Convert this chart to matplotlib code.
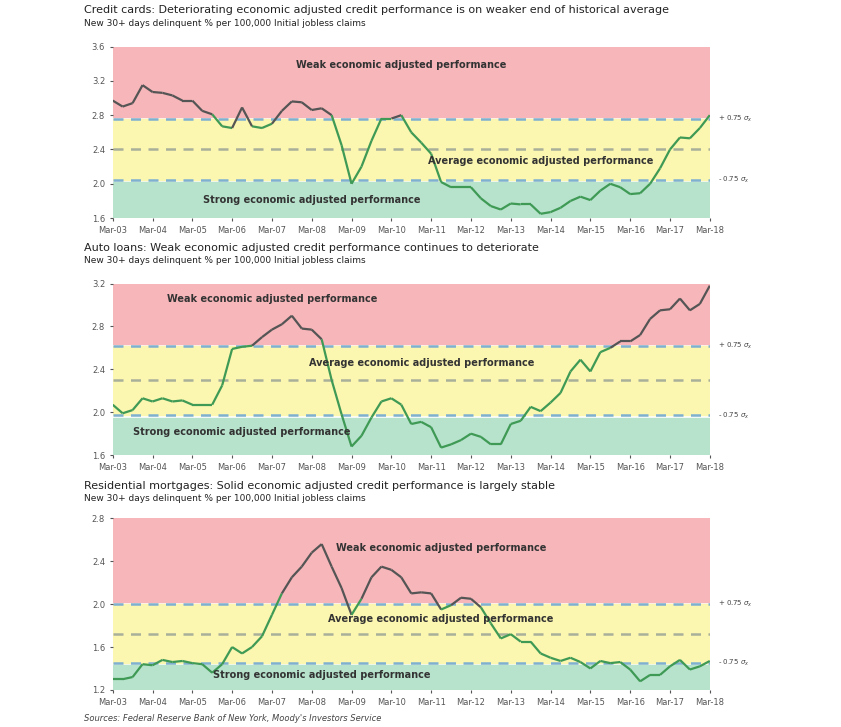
import numpy as np
import matplotlib.pyplot as plt
from matplotlib.collections import LineCollection

# quarterly, Mar-03 .. Mar-18
n_q = 61
year_labels = ['Mar-%02d' % y for y in range(3, 19)]

credit_cards = [2.97, 2.90, 2.94, 3.15,
                3.07, 3.06, 3.03, 2.97,
                2.97, 2.85, 2.81, 2.67,
                2.65, 2.89, 2.67, 2.65,
                2.70, 2.85, 2.96, 2.95,
                2.86, 2.88, 2.80, 2.45,
                2.00, 2.20, 2.50, 2.76,
                2.76, 2.80, 2.60, 2.48,
                2.35, 2.02, 1.96, 1.96,
                1.96, 1.83, 1.74, 1.70,
                1.77, 1.76, 1.76, 1.65,
                1.67, 1.72, 1.80, 1.85,
                1.81, 1.92, 2.00, 1.96,
                1.88, 1.89, 2.00, 2.18,
                2.40, 2.54, 2.53, 2.65,
                2.80]
auto_loans = [2.07, 1.99, 2.02, 2.13,
              2.10, 2.13, 2.10, 2.11,
              2.07, 2.07, 2.07, 2.25,
              2.59, 2.61, 2.62, 2.70,
              2.77, 2.82, 2.90, 2.78,
              2.77, 2.68, 2.30, 1.98,
              1.68, 1.78, 1.95, 2.10,
              2.13, 2.07, 1.89, 1.91,
              1.86, 1.67, 1.70, 1.74,
              1.80, 1.77, 1.70, 1.70,
              1.89, 1.92, 2.05, 2.01,
              2.09, 2.18, 2.38, 2.49,
              2.38, 2.56, 2.60, 2.66,
              2.66, 2.72, 2.87, 2.95,
              2.96, 3.06, 2.95, 3.01,
              3.18]
mortgages = [1.30, 1.30, 1.32, 1.44,
             1.43, 1.48, 1.46, 1.47,
             1.45, 1.44, 1.36, 1.44,
             1.60, 1.54, 1.60, 1.70,
             1.90, 2.10, 2.25, 2.35,
             2.48, 2.56, 2.35, 2.15,
             1.90, 2.05, 2.25, 2.35,
             2.32, 2.25, 2.10, 2.11,
             2.10, 1.95, 1.99, 2.06,
             2.05, 1.97, 1.82, 1.68,
             1.72, 1.65, 1.65, 1.54,
             1.50, 1.47, 1.50, 1.46,
             1.40, 1.47, 1.45, 1.46,
             1.39, 1.28, 1.34, 1.34,
             1.42, 1.48, 1.39, 1.42,
             1.47]

# (title, values, ylim, yticks, upper, mid, lower, weak label pos, avg pos, strong pos)
panels = [
    ('Credit cards: Deteriorating economic adjusted credit performance is on weaker end of historical average',
     credit_cards, (1.6, 3.6), [1.6, 2.0, 2.4, 2.8, 3.2, 3.6], 2.76, 2.40, 2.04,
     (29, 3.38), (43, 2.27), (20, 1.81)),
    ('Auto loans: Weak economic adjusted credit performance continues to deteriorate',
     auto_loans, (1.6, 3.2), [1.6, 2.0, 2.4, 2.8, 3.2], 2.62, 2.30, 1.97,
     (16, 3.06), (31, 2.46), (13, 1.82)),
    ('Residential mortgages: Solid economic adjusted credit performance is largely stable',
     mortgages, (1.2, 2.8), [1.2, 1.6, 2.0, 2.4, 2.8], 2.00, 1.72, 1.45,
     (33, 2.52), (33, 1.86), (21, 1.34)),
]

fig = plt.figure(figsize=(8.41, 7.27), dpi=100)
bottoms = [0.700, 0.374, 0.051]
title_y = [0.982, 0.964, 0.655, 0.638, 0.328, 0.311]

x = np.arange(n_q)
for i, (title, vals, ylim, yt, up, mid, lo, wpos, apos, spos) in enumerate(panels):
    ax = fig.add_axes([0.134, bottoms[i], 0.71, 0.236])
    ax.axhspan(up + 0.02, ylim[1], color='#f7b6ba', zorder=0)
    ax.axhspan(lo, up, color='#fbf6b0', zorder=0)
    ax.axhspan(ylim[0], lo - 0.02, color='#b7e3cc', zorder=0)
    for lvl in (up, mid, lo):
        c = '#7fb0d0' if lvl != mid else '#a9b09a'
        ax.axhline(lvl, color=c, lw=1.8, ls=(0, (4, 3)), zorder=1)
    v = np.array(vals)
    pts = np.column_stack([x, v]).reshape(-1, 1, 2)
    segs = np.concatenate([pts[:-1], pts[1:]], axis=1)
    cols = ['#555555' if (a + b) / 2 > up else '#3f9a55' for a, b in zip(v[:-1], v[1:])]
    ax.add_collection(LineCollection(segs, colors=cols, lw=1.6, zorder=2))
    ax.set_xlim(0, n_q - 1)
    ax.set_ylim(*ylim)
    ax.set_yticks(yt)
    ax.set_yticklabels(['%.1f' % t for t in yt])
    ax.set_xticks(np.arange(0, n_q, 4))
    ax.set_xticklabels(year_labels)
    ax.tick_params(labelsize=6, colors='#555555', length=2)
    for s in ax.spines.values():
        s.set_visible(False)
    ax.text(*wpos, 'Weak economic adjusted performance', fontsize=7, fontweight='bold', color='#333333', ha='center', va='center')
    ax.text(*apos, 'Average economic adjusted performance', fontsize=7, fontweight='bold', color='#333333', ha='center', va='center')
    ax.text(*spos, 'Strong economic adjusted performance', fontsize=7, fontweight='bold', color='#333333', ha='center', va='center')
    ax.text(n_q - 0.2, up, r'+ 0.75 $\sigma_x$', fontsize=5, color='#444444', va='center', clip_on=False)
    ax.text(n_q - 0.2, lo, r'- 0.75 $\sigma_x$', fontsize=5, color='#444444', va='center', clip_on=False)
    fig.text(0.100, title_y[2 * i], title, fontsize=8, color='#222222')
    fig.text(0.100, title_y[2 * i + 1], 'New 30+ days delinquent % per 100,000 Initial jobless claims', fontsize=6.5, color='#222222')

fig.text(0.100, 0.008, "Sources: Federal Reserve Bank of New York, Moody's Investors Service", fontsize=6, style='italic', color='#444444')
fig.savefig('out.png', dpi=100)
